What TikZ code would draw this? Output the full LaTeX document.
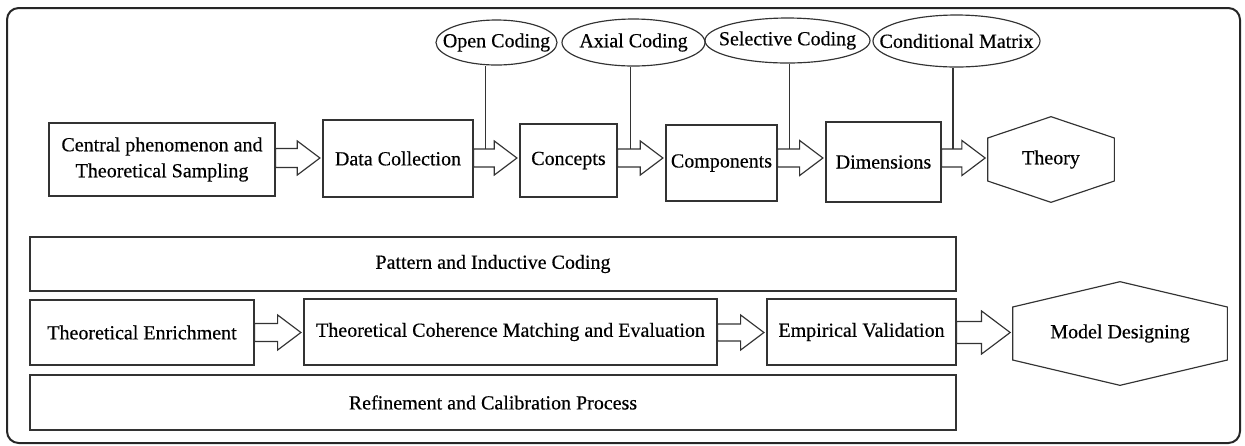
\documentclass[tikz,border=0pt]{standalone}
\usepackage{fontspec}
\setmainfont{Liberation Serif}
\newfontfamily\chartfont[FakeBold=0.4]{Liberation Serif}
\usepackage{tikz}
\usetikzlibrary{shapes, positioning, calc}

% hollow block arrow between two nodes: from, to, row, shaft half, head half, tag on shaft
\newcommand{\hollowarrow}[6]{%
  \draw[blockarrow] let \p1=(#1.east), \p2=(#2.west), \p3=(#3), \n1={1.33*#5} in
    (\x1/2+\x2/2-\n1/2,\y3+#4) coordinate (#6)
    (\x1,\y3+#4) -- (\x2-1.5pt-\n1,\y3+#4) -- (\x2-1.5pt-\n1,\y3+#5) -- (\x2-1.5pt,\y3)
    -- (\x2-1.5pt-\n1,\y3-#5) -- (\x2-1.5pt-\n1,\y3-#4) -- (\x1,\y3-#4) -- cycle;}

% hexagon round a plain node: name, half height of the side edges
\newcommand{\hexframe}[2]{%
  \draw[boxline] (#1.north) -- ($(#1.east)+(0,-#2)$) -- ($(#1.east)+(0,#2)$) -- (#1.south)
    -- ($(#1.west)+(0,#2)$) -- ($(#1.west)+(0,-#2)$) -- cycle;}

\begin{document}
\begin{tikzpicture}[x=0.6pt, y=-0.6pt,
    boxline/.style={draw=black!80, line width=0.7pt},
    box/.style={boxline, align=center, inner sep=0pt, font=\chartfont\fontsize{12}{15.6}\selectfont},
    coding/.style={boxline, ellipse, inner xsep=-12pt, inner ysep=0pt, font=\chartfont\fontsize{12}{14}\selectfont},
    hexa/.style={inner sep=0pt, font=\chartfont\fontsize{12}{14}\selectfont},
    blockarrow/.style={draw=black!80, line width=0.7pt},
    tie/.style={draw=black!80, line width=0.7pt},
    frame/.style={draw=black!85, line width=1.2pt, rounded corners=7pt}]

    \useasboundingbox (0,0) rectangle (1245,445);

    % outer frame
    \draw[frame] (7,8) rectangle (1240,443);

    % heights of the two arrow rows
    \coordinate (row1) at (0,158);
    \coordinate (row2) at (0,332.5);

    % top row: from sampling to theory
    \node[box, minimum width=135.6pt, minimum height=43.8pt] (central) at (162,159.5)
        {Central phenomenon and\\Theoretical Sampling};
    \node[box, minimum width=90pt, minimum height=46.2pt] (data) at (398,158.5) {Data Collection};
    \node[box, minimum width=58.2pt, minimum height=43.8pt] (concepts) at (568.5,160.5) {Concepts};
    \node[box, minimum width=66.6pt, minimum height=45.6pt] (components) at (721.5,163) {Components};
    \node[box, minimum width=69pt, minimum height=48pt] (dimensions) at (883.5,162) {Dimensions};
    \node[hexa, minimum width=75.6pt, minimum height=51pt] (theory) at (1051,159.5) {Theory};
    \hexframe{theory}{21.5}

    % coding stages above the row
    \node[coding, minimum width=72.6pt, minimum height=27pt] (open) at (496.5,42.5) {Open Coding};
    \node[coding, minimum width=85.8pt, minimum height=28.2pt] (axial) at (633.5,42.5) {Axial Coding};
    \node[coding, minimum width=99pt, minimum height=27pt] (selective) at (787.5,40.5) {Selective Coding};
    \node[coding, minimum width=100.2pt, minimum height=31.2pt] (conditional) at (956.5,41) {Conditional Matrix};

    % arrows of the top row
    \hollowarrow{central}{data}{row1}{5.7pt}{10.2pt}{t1}
    \hollowarrow{data}{concepts}{row1}{5.4pt}{10.2pt}{t2}
    \hollowarrow{concepts}{components}{row1}{5.4pt}{10.2pt}{t3}
    \hollowarrow{components}{dimensions}{row1}{5.4pt}{10.5pt}{t4}
    \hollowarrow{dimensions}{theory}{row1}{5.4pt}{10.5pt}{t5}

    % each coding stage hangs on its arrow
    \draw[tie] (t2) -- (t2 |- open.south);
    \draw[tie] (t3) -- (t3 |- axial.south);
    \draw[tie] (t4) -- (t4 |- selective.south);
    \draw[tie] (t5) -- (t5 |- conditional.south);

    % bottom part: bands and model row
    \node[box, minimum width=555.6pt, minimum height=32.4pt] (pattern) at (493,264) {Pattern and Inductive Coding};
    \node[box, minimum width=134.4pt, minimum height=39pt] (enrich) at (142,332.5) {Theoretical Enrichment};
    \node[box, minimum width=247.8pt, minimum height=39.6pt] (coherence) at (510.5,332)
        {Theoretical Coherence Matching and Evaluation};
    \node[box, minimum width=113.4pt, minimum height=39.6pt] (empirical) at (861.5,332) {Empirical Validation};
    \node[hexa, minimum width=128.4pt, minimum height=61.8pt] (model) at (1120,333.5) {Model Designing};
    \hexframe{model}{26.5}
    \node[box, minimum width=555.6pt, minimum height=33pt] (refine) at (493,402.5) {Refinement and Calibration Process};

    % arrows of the bottom row
    \hollowarrow{enrich}{coherence}{row2}{5.4pt}{10.5pt}{b1}
    \hollowarrow{coherence}{empirical}{row2}{5.1pt}{10.5pt}{b2}
    \hollowarrow{empirical}{model}{row2}{6.6pt}{12.9pt}{b3}
\end{tikzpicture}
\end{document}
